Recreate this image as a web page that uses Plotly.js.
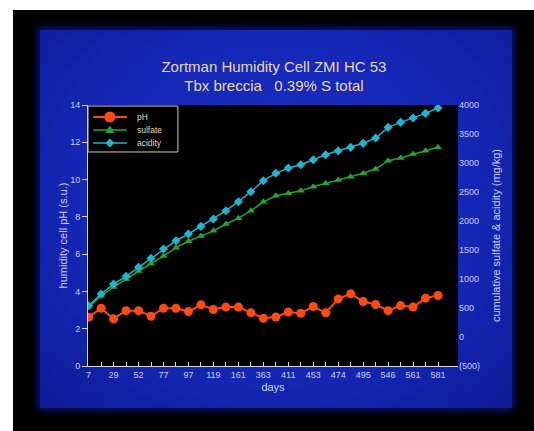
<!DOCTYPE html>
<html>
<head>
<meta charset="utf-8">
<script src="https://cdn.plot.ly/plotly-3.0.1.min.js"></script>
<style>
  html, body { margin:0; padding:0; background:#ffffff; }
  #frame { position:absolute; left:13px; top:10px; width:521px; height:421px; background:#000; }
  #panel { position:absolute; left:40px; top:30px; width:472px; height:378px;
           background: radial-gradient(ellipse at 50% 45%, #1a30c8 0%, #1426b4 60%, #0e1c98 100%);
           box-shadow: 0 0 8px 2px #0b1585; }
  #chart { position:absolute; left:0; top:0; width:534px; height:431px; }
</style>
</head>
<body>
<div id="frame"></div>
<div id="panel"></div>
<div id="chart"></div>
<script>
// Days of sampling (labelled values read from the axis; unlabelled in-between days estimated)
const days = ['7','18','29','40','52','64','77','87','97','108','119','140','161','182','363',
              '387','411','432','453','464','474','484','495','520','546','553','561','571','581'];
const labelledDays = ['7','29','52','77','97','119','161','363','411','453','474','495','546','561','581'];

// humidity cell pH (s.u.)
const pH = [2.62,3.10,2.53,2.97,2.97,2.67,3.10,3.10,2.92,3.28,3.03,3.16,3.16,2.85,2.56,
            2.63,2.89,2.83,3.19,2.85,3.60,3.87,3.46,3.30,2.97,3.24,3.16,3.64,3.78];
// cumulative sulfate (mg/kg)
const sulfate = [520,710,862,1000,1138,1267,1396,1540,1650,1740,1830,1948,2046,2177,2330,
                 2436,2477,2522,2591,2650,2707,2764,2822,2896,3039,3086,3155,3212,3270];
// cumulative acidity (mg/kg)
const acidity = [540,741,914,1046,1202,1357,1517,1660,1776,1908,2034,2177,2333,2505,2695,
                 2822,2914,2971,3057,3143,3212,3270,3339,3431,3615,3701,3776,3856,3948];

const rightTicks = [-500,0,500,1000,1500,2000,2500,3000,3500,4000];
const rightTickText = ['(500)','0','500','1000','1500','2000','2500','3000','3500','4000'];

const seriesNames = ['pH','sulfate','acidity'];
const seriesColors = ['#ff4a14','#22a82c','#22b4cc'];

const tickText = days.map(d => labelledDays.includes(d) ? d : '');

const txtColor = '#cfd0f0';
const axColor = '#d8d8e0';

const traces = [
  { x: days, y: pH, name: seriesNames[0], type: 'scatter', mode: 'lines+markers', yaxis: 'y',
    line: { color: seriesColors[0], width: 2 },
    marker: { symbol: 'circle', size: 9, color: seriesColors[0] } },
  { x: days, y: sulfate, name: seriesNames[1], type: 'scatter', mode: 'lines+markers', yaxis: 'y2',
    line: { color: '#1fa52a', width: 1.5 },
    marker: { symbol: 'triangle-up', size: 7, color: seriesColors[1] } },
  { x: days, y: acidity, name: seriesNames[2], type: 'scatter', mode: 'lines+markers', yaxis: 'y2',
    line: { color: '#1eb0c8', width: 1.5 },
    marker: { symbol: 'diamond', size: 7, color: seriesColors[2] } }
];

// compact legend box drawn as layout shapes/annotations
const legY = [0.954, 0.904, 0.854];
const legSymbolPaths = [null, 'M-4.5,-3 L4.5,-3 L0,4.5 Z', 'M0,-4.5 L4.5,0 L0,4.5 L-4.5,0 Z'];
const shapes = [
  { type: 'rect', xref: 'paper', yref: 'paper', x0: 0, x1: 0.243, y0: 0.820, y1: 0.996,
    fillcolor: '#000000', line: { color: '#d8cca8', width: 1 }, layer: 'above' }
];
const annotations = [];
seriesNames.forEach((n, i) => {
  shapes.push({ type: 'line', xref: 'paper', yref: 'paper', x0: 0.014, x1: 0.105, y0: legY[i], y1: legY[i],
                line: { color: seriesColors[i], width: i === 0 ? 2 : 1.5 }, layer: 'above' });
  if (i === 0) {
    shapes.push({ type: 'circle', xref: 'paper', yref: 'paper', xsizemode: 'pixel', ysizemode: 'pixel',
                  xanchor: 0.059, yanchor: legY[i], x0: -5.5, x1: 5.5, y0: -5.5, y1: 5.5,
                  fillcolor: seriesColors[i], line: { width: 0 }, layer: 'above' });
  } else {
    shapes.push({ type: 'path', xref: 'paper', yref: 'paper', xsizemode: 'pixel', ysizemode: 'pixel',
                  xanchor: 0.059, yanchor: legY[i], path: legSymbolPaths[i],
                  fillcolor: seriesColors[i], line: { width: 0 }, layer: 'above' });
  }
  annotations.push({ xref: 'paper', yref: 'paper', x: 0.127, y: legY[i], text: n,
                     showarrow: false, xanchor: 'left', yanchor: 'middle',
                     font: { size: 8.5, color: '#e0d8b8' } });
});

const layout = {
  width: 534, height: 431,
  margin: { l: 88, r: 76, t: 105, b: 65 },
  paper_bgcolor: 'rgba(0,0,0,0)',
  plot_bgcolor: '#000000',
  font: { family: 'Liberation Sans, Arial, sans-serif', color: txtColor, size: 9 },
  title: { text: 'Zortman Humidity Cell ZMI HC 53<br>Tbx breccia   0.39% S total',
           font: { size: 15, color: '#e8d8a8' },
           x: 0.513, xanchor: 'center', y: 0.833, yanchor: 'middle', yref: 'container' },
  showlegend: false,
  shapes: shapes,
  annotations: annotations,
  xaxis: { type: 'category', range: [-0.05, 29.6], tickmode: 'array', tickvals: days, ticktext: tickText,
           ticks: 'inside', ticklen: 4, tickcolor: axColor, showline: true, linecolor: axColor, linewidth: 1,
           showgrid: false, zeroline: false, tickfont: { size: 9, color: txtColor },
           title: { text: 'days', font: { size: 11, color: txtColor }, standoff: 4 } },
  yaxis: { range: [0, 14], dtick: 2, ticks: 'outside', ticklen: 5, tickcolor: axColor,
           showline: true, linecolor: axColor, linewidth: 1, showgrid: false, zeroline: false,
           tickfont: { size: 9, color: txtColor },
           title: { text: 'humidity cell pH (s.u.)', font: { size: 11, color: txtColor }, standoff: 0 } },
  yaxis2: { overlaying: 'y', side: 'right', range: [-500, 4000], tickmode: 'array',
            tickvals: rightTicks, ticktext: rightTickText, ticks: '', showline: false,
            showgrid: false, zeroline: false, tickfont: { size: 9, color: txtColor },
            title: { text: 'cumulative sulfate & acidity (mg/kg)', font: { size: 11, color: txtColor }, standoff: 13 } }
};

Plotly.newPlot('chart', traces, layout, { displayModeBar: false, staticPlot: true });
</script>
</body>
</html>
